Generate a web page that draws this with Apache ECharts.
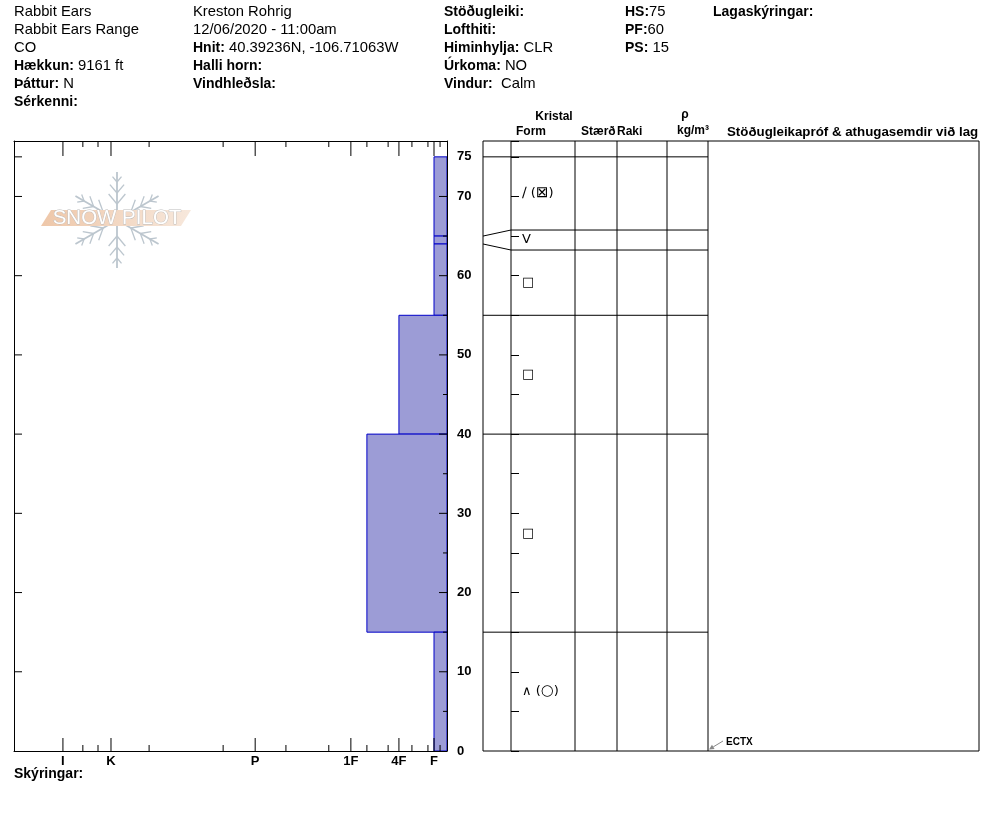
<!DOCTYPE html>
<html><head><meta charset="utf-8">
<script src="https://cdn.jsdelivr.net/npm/echarts@6/dist/echarts.min.js"></script>
<style>html,body{margin:0;padding:0;background:#fff}#c{width:994px;height:840px}</style>
</head><body><div id="c"></div>
<script>
// ---- data ----
const depthMax = 77;
const layerTop      = [75, 65, 64, 55, 40, 15];
const layerBottom   = [65, 64, 55, 40, 15, 0];
const layerHardness = ['F', 'F', 'F', '4F', '1F-', 'F'];
const grainPrimary  = ['\u2215', 'V', '\u25A1', '\u25A1', '\u25A1', '\u2227'];
const grainSecondary= ['\u22A0', '', '', '', '', '\u25CB'];
// hand-hardness scale (axis units, 0 = right edge)
const hardnessCodes  = ['F-','F','F+','4F-','4F','4F+','1F-','1F','1F+','P-','P','P+','K-','K','K+','I-','I'];
const hardnessValues = [1.6, 3.0, 4.4, 8.1, 11.1, 13.6, 18.5, 22.2, 27.3, 37.2, 44.3, 51.7, 68.8, 77.6, 80.6, 84.1, 88.7];
const hardnessMajor  = ['I','K','P','1F','4F','F'];
const depthLabels    = [0,10,20,30,40,50,60,70,75];
const depthMajorTicks= [10,20,30,40,50,60,70];
const depthMinorTicks= [5,15,25,35,45,55,65];
const testNames  = ['ECTX'];
const testDepths = [0];

const hv = c => hardnessValues[hardnessCodes.indexOf(c)];
const majorVals = hardnessMajor.map(hv);
const minorVals = hardnessCodes.filter(c => hardnessMajor.indexOf(c) < 0).map(hv);
const boundaries = layerTop.concat([layerBottom[layerBottom.length - 1]]);

// tick specs for the profile frame: [side, value, length]
const tickSpecs = []
  .concat(majorVals.map(v => ['b', v, 13])).concat(minorVals.map(v => ['b', v, 6]))
  .concat(majorVals.map(v => ['t', v, 15])).concat(minorVals.map(v => ['t', v, 6]))
  .concat(depthMajorTicks.map(v => ['r', v, 8])).concat(depthMinorTicks.map(v => ['r', v, 4]))
  .concat(depthMajorTicks.concat([75]).map(v => ['l', v, 8]));

const FONT = '"Liberation Sans", Arial, sans-serif';
const SYMFONT = '"DejaVu Sans", sans-serif';
function T(x, y, text, size, extra) {
  return {
    type: 'text', x: x, y: y, silent: true,
    style: Object.assign({
      text: text, fontSize: size || 14.8, fontFamily: FONT, fill: '#000', verticalAlign: 'middle',
      rich: { b: { fontWeight: 'bold', fontSize: 14, fontFamily: FONT, fill: '#000' } }
    }, extra || {})
  };
}

// header
const header = [
  T(14, 12, 'Rabbit Ears'), T(14, 30, 'Rabbit Ears Range'), T(14, 48, 'CO'),
  T(14, 66, '{b|Hækkun:} 9161 ft'), T(14, 84, '{b|Þáttur:} N'), T(14, 102, '{b|Sérkenni:}'),
  T(193, 12, 'Kreston Rohrig'), T(193, 30, '12/06/2020 - 11:00am'),
  T(193, 48, '{b|Hnit:} 40.39236N, -106.71063W'), T(193, 66, '{b|Halli horn:}'), T(193, 84, '{b|Vindhleðsla:}'),
  T(444, 12, '{b|Stöðugleiki:}'), T(444, 30, '{b|Lofthiti:}'), T(444, 48, '{b|Himinhylja:} CLR'),
  T(444, 66, '{b|Úrkoma:} NO'), T(444, 84, '{b|Vindur:}  Calm'),
  T(625, 12, '{b|HS:}75'), T(625, 30, '{b|PF:}60'), T(625, 48, '{b|PS:} 15'),
  T(713, 12, '{b|Lagaskýringar:}'),
  T(14, 774, '{b|Skýringar:}'),
  T(554, 117, 'Kristal', 12, {fontWeight: 'bold', align: 'center'}),
  T(531, 132, 'Form', 12, {fontWeight: 'bold', align: 'center'}),
  T(581, 132, 'Stærð', 12, {fontWeight: 'bold'}),
  T(617, 132, 'Raki', 12, {fontWeight: 'bold'}),
  T(685, 115, 'ρ', 12, {fontWeight: 'bold', align: 'center'}),
  T(693, 131, 'kg/m³', 12, {fontWeight: 'bold', align: 'center'}),
  T(727, 132, 'Stöðugleikapróf & athugasemdir við lag', 13.3, {fontWeight: 'bold'})
];

// table frame
const frame = [
  {type: 'rect', shape: {x: 483, y: 141, width: 496, height: 610}, style: {fill: 'none', stroke: '#000', lineWidth: 1}, silent: true}
];
[511, 575, 617, 667, 708].forEach(x => frame.push({type: 'line', silent: true, shape: {x1: x, y1: 141, x2: x, y2: 751}, style: {stroke: '#000', lineWidth: 1}}));

// snowflake logo
const logo = [];
(function () {
  const cx = 117, cy = 220, L = 48, col = '#bcc6ce';
  [90, 30, -30, -90, 150, 210].forEach(a => {
    const r = a * Math.PI / 180, dx = Math.cos(r), dy = -Math.sin(r);
    logo.push({type: 'line', silent: true, shape: {x1: cx, y1: cy, x2: cx + dx * L, y2: cy + dy * L}, style: {stroke: col, lineWidth: 1.8}});
    [[16, 13], [27, 11], [38, 7]].forEach(p => {
      [40, -40].forEach(b => {
        const rb = r + b * Math.PI / 180, px = cx + dx * p[0], py = cy + dy * p[0];
        logo.push({type: 'line', silent: true, shape: {x1: px, y1: py, x2: px + Math.cos(rb) * p[1], y2: py - Math.sin(rb) * p[1]}, style: {stroke: col, lineWidth: 1.3}});
      });
    });
  });
  logo.push({type: 'polygon', silent: true, shape: {points: [[41, 226], [51, 210], [191, 210], [181, 226]]},
    style: {fill: new echarts.graphic.LinearGradient(0, 0, 1, 0, [{offset: 0, color: '#eec7a9'}, {offset: 1, color: '#f7e8dc'}])}});
  logo.push({type: 'text', silent: true, x: 117, y: 218.5, style: {text: 'SNOW PILOT', fontSize: 20.5, fontFamily: FONT, fill: '#ffffff', stroke: '#bbbbbb', lineWidth: 0.8, align: 'center', verticalAlign: 'middle'}});
})();

const axisBase = {min: 0, max: 100, inverse: true, type: 'value', gridIndex: 0, splitLine: {show: false}, axisTick: {show: false}, z: 10};
const yBase = {min: 0, max: depthMax, type: 'value', gridIndex: 0, splitLine: {show: false}, axisTick: {show: false}, z: 10};
const frameLine = {show: true, onZero: false, lineStyle: {color: '#000', width: 1}};

function displayBoundaries(api) {
  const real = boundaries.map(d => api.coord([0, d])[1]);
  const disp = real.slice();
  for (let j = 0; j < real.length - 1; j++) {
    if (real[j + 1] - real[j] < 20) {
      const c = (real[j] + real[j + 1]) / 2;
      disp[j] = c - 10; disp[j + 1] = c + 10;
    }
  }
  return {real, disp};
}

const option = {
  animation: false,
  backgroundColor: '#fff',
  graphic: logo.concat(header).concat(frame),
  grid: [
    {left: 14, top: 141, width: 433, height: 610},
    {left: 483, top: 141, width: 496, height: 610},
    {left: 511, top: 141, width: 1, height: 610}
  ],
  xAxis: [
    Object.assign({}, axisBase, {position: 'bottom', axisLine: frameLine,
      axisLabel: {customValues: majorVals, margin: 4, fontWeight: 'bold', fontSize: 13, fontFamily: FONT, color: '#000',
        formatter: v => hardnessMajor.find(c => Math.abs(hv(c) - v) < 0.01) || ''}}),
    Object.assign({}, axisBase, {position: 'top', axisLine: frameLine, axisLabel: {show: false}}),
    {gridIndex: 1, type: 'value', min: 0, max: 1, show: false},
    {gridIndex: 2, type: 'value', min: 0, max: 1, show: false}
  ],
  yAxis: [
    Object.assign({}, yBase, {position: 'right', axisLine: frameLine,
      axisLabel: {customValues: depthLabels, margin: 10, fontWeight: 'bold', fontSize: 13, fontFamily: FONT, color: '#000'}}),
    Object.assign({}, yBase, {position: 'left', axisLine: frameLine, axisLabel: {show: false}}),
    {gridIndex: 1, type: 'value', min: 0, max: depthMax, show: false},
    {gridIndex: 2, type: 'value', min: 0, max: depthMax, interval: 5, splitLine: {show: false}, position: 'left', z: 10,
      axisLine: {show: false, onZero: false}, axisLabel: {show: false},
      axisTick: {show: true, inside: false, length: -8, lineStyle: {color: '#000'}}}
  ],
  series: [
    {
      type: 'custom', xAxisIndex: 0, yAxisIndex: 0, z: 2,
      data: layerTop.map((t, i) => [hv(layerHardness[i]), t, layerBottom[i]]),
      renderItem: function (params, api) {
        const p1 = api.coord([api.value(0), api.value(1)]);
        const p2 = api.coord([0, api.value(2)]);
        return {type: 'rect', shape: {x: Math.min(p1[0], p2[0]), y: p1[1], width: Math.abs(p2[0] - p1[0]), height: p2[1] - p1[1]},
          style: {fill: '#9c9cd6', stroke: '#0000c8', lineWidth: 1}};
      }
    },
    {
      // hardness / depth ticks on the profile frame
      type: 'custom', xAxisIndex: 0, yAxisIndex: 0, z: 12, silent: true,
      data: tickSpecs.map(s => [s[1], 0]),
      renderItem: function (params, api) {
        const s = tickSpecs[params.dataIndex];
        let a, b;
        if (s[0] === 'b') { const p = api.coord([s[1], 0]); a = p; b = [p[0], p[1] - s[2]]; }
        else if (s[0] === 't') { const p = api.coord([s[1], depthMax]); a = p; b = [p[0], p[1] + s[2]]; }
        else if (s[0] === 'r') { const p = api.coord([0, s[1]]); a = p; b = [p[0] - s[2], p[1]]; }
        else { const p = api.coord([100, s[1]]); a = p; b = [p[0] + s[2], p[1]]; }
        return {type: 'line', shape: {x1: a[0], y1: a[1], x2: b[0], y2: b[1]}, style: {stroke: '#000', lineWidth: 1}};
      }
    },
    {
      // layer boundaries in the table (thin layers are expanded, with connectors)
      type: 'custom', xAxisIndex: 2, yAxisIndex: 2, z: 3,
      data: boundaries.slice(0, -1).map((d, i) => [i, d]),
      renderItem: function (params, api) {
        const i = params.dataIndex;
        const x0 = params.coordSys.x;
        const b = displayBoundaries(api);
        const ry = b.real[i], dy = b.disp[i];
        if (Math.abs(ry - dy) > 0.5) {
          return {type: 'polyline', shape: {points: [[x0, ry], [x0 + 28, dy], [x0 + 225, dy]]}, style: {stroke: '#000', lineWidth: 1, fill: null}};
        }
        return {type: 'line', shape: {x1: x0, y1: ry, x2: x0 + 225, y2: ry}, style: {stroke: '#000', lineWidth: 1}};
      }
    },
    {
      // grain form symbols
      type: 'custom', xAxisIndex: 2, yAxisIndex: 2, z: 3,
      data: layerTop.map((t, i) => [i, t]),
      renderItem: function (params, api) {
        const i = params.dataIndex;
        const x0 = params.coordSys.x;
        const b = displayBoundaries(api);
        const cy = (b.disp[i] + b.disp[i + 1]) / 2;
        const g = '{p|' + grainPrimary[i] + '}' + (grainSecondary[i] ? ' ({s|' + grainSecondary[i] + '})' : '');
        return {type: 'text', x: x0 + 39, y: cy, style: {text: g, fontSize: 13, fontFamily: SYMFONT, fill: '#000', verticalAlign: 'middle',
          rich: {p: {fontSize: i === 0 ? 14 : 13, fontFamily: SYMFONT, fill: '#000'},
                 s: {fontSize: 15, fontFamily: SYMFONT, fill: '#000'}}}};
      }
    },
    {
      type: 'custom', xAxisIndex: 2, yAxisIndex: 2, z: 4,
      data: testDepths.map((d, i) => [i, d]),
      renderItem: function (params, api) {
        const i = params.dataIndex;
        const x = params.coordSys.x + 225;
        const y = api.coord([0, api.value(1)])[1];
        const tip = [x + 1, y - 1.5];
        const tail = [x + 15, y - 10];
        const ang = Math.atan2(tip[1] - tail[1], tip[0] - tail[0]);
        const ah = 5, aw = 2.5;
        const bx = tip[0] - Math.cos(ang) * ah, by = tip[1] - Math.sin(ang) * ah;
        return {type: 'group', children: [
          {type: 'line', shape: {x1: tail[0], y1: tail[1], x2: bx, y2: by}, style: {stroke: '#888', lineWidth: 1}},
          {type: 'polygon', shape: {points: [tip, [bx - Math.sin(ang) * aw, by + Math.cos(ang) * aw], [bx + Math.sin(ang) * aw, by - Math.cos(ang) * aw]]}, style: {fill: '#888'}},
          {type: 'text', x: x + 18, y: y - 9, style: {text: testNames[i], fontSize: 10, fontWeight: 'bold', fontFamily: FONT, fill: '#000', verticalAlign: 'middle'}}
        ]};
      }
    }
  ]
};
const chart = echarts.init(document.getElementById('c'));
chart.setOption(option);
</script></body></html>
